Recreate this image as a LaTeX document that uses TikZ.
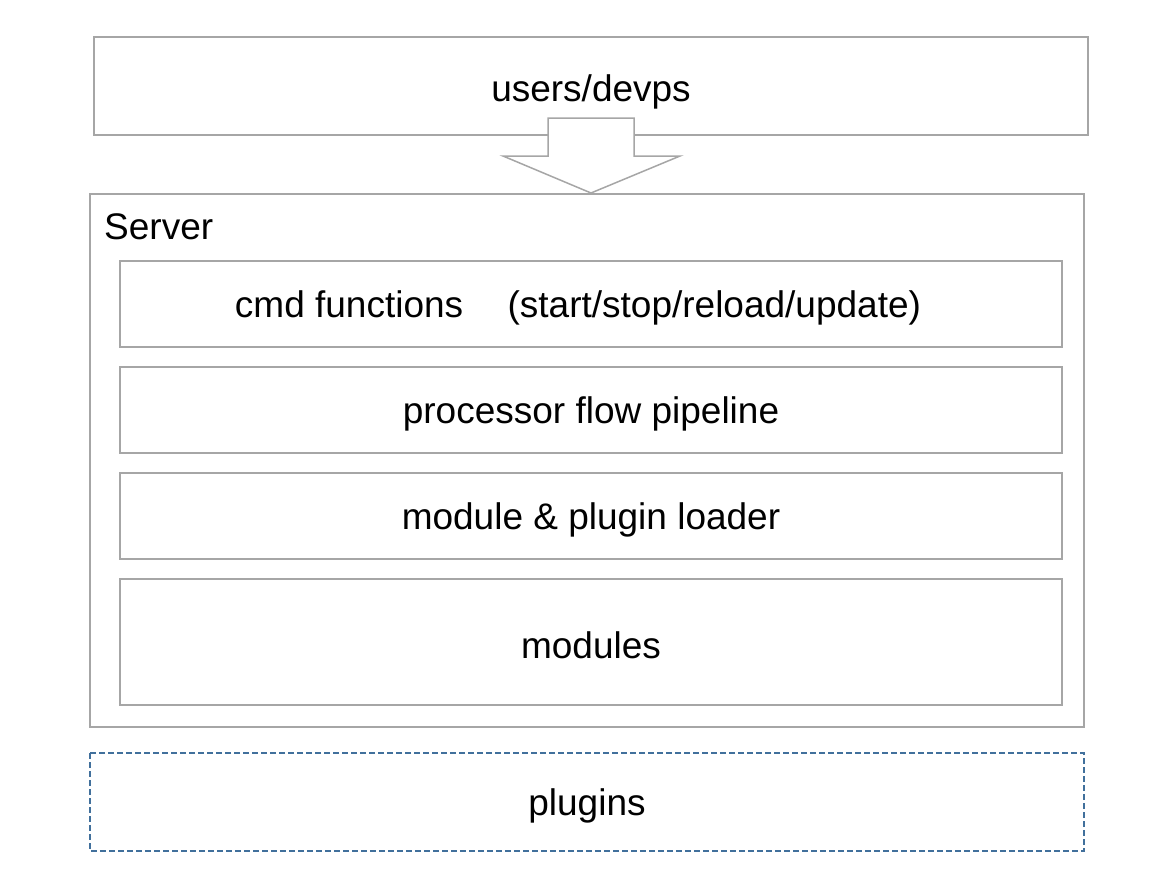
\documentclass[tikz,border=0pt]{standalone}
\usepackage{fontspec}
\setmainfont{Liberation Sans}
\begin{document}
\begin{tikzpicture}[x=1pt,y=-1pt,
  graybox/.style={draw=boxgray,line width=1.5pt,fill=white},
  label/.style={font=\fontsize{37}{44}\selectfont,text=black,inner sep=0pt}]
\definecolor{boxgray}{HTML}{A6A6A6}
\definecolor{dashblue}{HTML}{41709C}
\useasboundingbox (0,0) rectangle (1158,892);
% top box
\draw[graybox] (94,37) rectangle (1088,135);
\node[label] (users) at (591,92) {users/devps};
% arrow
\draw[graybox,line join=miter] (548,118) -- (634,118) -- (634,156) -- (680,156) -- (591,193) -- (503,156) -- (548,156) -- cycle;
\coordinate (arrowtip) at (591,193);
% server box
\draw[graybox] (90,194) rectangle (1084,727);
\node[label,anchor=west] (server) at (104,227) {Server};
\draw[graybox] (120,261) rectangle (1062,347);
\node[label] (cmd) at (578,308) {cmd functions\hspace{1.2em}(start/stop/reload/update)};
\draw[graybox] (120,367) rectangle (1062,453);
\node[label] (proc) at (591,414) {processor flow pipeline};
\draw[graybox] (120,473) rectangle (1062,559);
\node[label] (loader) at (591,520) {module \& plugin loader};
\draw[graybox] (120,579) rectangle (1062,705);
\node[label] (modules) at (591,645) {modules};
% plugins
\draw[draw=dashblue,line width=1.5pt,dash pattern=on 6pt off 3pt] (90,753) rectangle (1084,851);
\node[label] (plugins) at (587,806) {plugins};
\end{tikzpicture}
\end{document}
